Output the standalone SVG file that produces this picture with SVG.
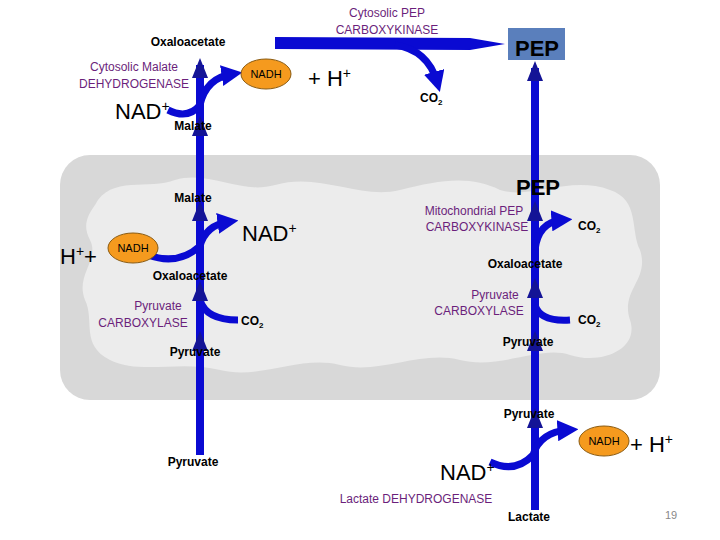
<svg xmlns="http://www.w3.org/2000/svg" width="720" height="540" viewBox="0 0 720 540" xmlns:xlink="http://www.w3.org/1999/xlink">
<style>
text{font-family:"Liberation Sans","Open Sans",sans-serif}
.m{font-size:12px;fill:#000;font-weight:bold}
.e{font-size:12px;fill:#6b1f7b}
.b{font-size:22px;fill:#000}
.line{stroke:#0a0ad2;stroke-width:8;fill:none}
.curve{stroke:#0a0ad2;stroke-width:7;fill:none}
.nadh{fill:#f59a1e;stroke:#8a5a10;stroke-width:1}
</style>
<defs>
<polygon id="up" points="0,-12 -8,8 8,8" fill="#141496"/>
<marker id="ah" viewBox="0 0 10 10" refX="5" refY="5" markerWidth="3" markerHeight="3" orient="auto"><path d="M0,0 L10,5 L0,10 z" fill="#0a0ad2"/></marker>
</defs>
<g id="mito">
<rect x="60" y="155" width="600" height="245" rx="30" fill="#d8d8d8"/>
<path d="M95,205 C110,175 150,190 175,180 C210,170 240,195 275,185 C320,172 360,200 400,190 C440,180 470,175 500,190 C530,200 570,175 610,190 C640,200 630,230 640,250 C650,280 620,290 630,320 C640,350 600,365 570,355 C540,345 500,370 460,360 C420,350 380,375 340,365 C300,355 260,380 220,370 C180,360 140,375 110,360 C80,345 95,320 85,300 C75,275 100,260 90,240 C82,225 88,215 95,205 Z" fill="#ececec"/>
</g>
<g id="connectors">
<line class="line" x1="200" y1="455" x2="200" y2="65"/>
<line class="line" x1="535" y1="510" x2="535" y2="68"/>
<path d="M275,37 L470,38 L505,44 L470,50 L275,49 Z" fill="#0a0ad2"/>
<path class="curve" d="M395,45 Q428,50 437,82" marker-end="url(#ah)"/>
<path class="curve" d="M168,110 Q188,120 200,105 Q206,78 232,74" marker-end="url(#ah)"/>
<path class="curve" d="M148,255 Q178,266 200,246 Q206,225 228,222" marker-end="url(#ah)"/>
<path class="curve" d="M200,300 Q206,320 238,320"/>
<path class="curve" d="M535,250 Q538,222 562,220" marker-end="url(#ah)"/>
<path class="curve" d="M535,305 Q540,322 570,320"/>
<path class="curve" d="M490,462 Q515,474 533,455 Q540,432 568,430" marker-end="url(#ah)"/>
<use xlink:href="#up" x="200" y="70"/>
<use xlink:href="#up" x="200" y="128"/>
<use xlink:href="#up" x="200" y="213"/>
<use xlink:href="#up" x="200" y="293"/>
<use xlink:href="#up" x="200" y="343"/>
<use xlink:href="#up" x="535" y="73"/>
<use xlink:href="#up" x="535" y="213"/>
<use xlink:href="#up" x="535" y="290"/>
<use xlink:href="#up" x="535" y="343"/>
<use xlink:href="#up" x="535" y="420"/>
</g>
<g id="pep-top"><rect x="508" y="28" width="57" height="32" fill="#5a7fbc"/><text x="537" y="56" class="b" text-anchor="middle" font-weight="bold">PEP</text></g>
<g id="labels">
<text x="188" y="46" class="m" text-anchor="middle">Oxaloacetate</text>
<text x="134" y="71" class="e" text-anchor="middle">Cytosolic Malate</text>
<text x="134" y="88" class="e" text-anchor="middle">DEHYDROGENASE</text>
<text x="115" y="119" class="b">NAD<tspan font-size="14" dy="-8">+</tspan></text>
<text x="193" y="130" class="m" text-anchor="middle">Malate</text>
<text x="387" y="17" class="e" text-anchor="middle">Cytosolic PEP</text>
<text x="387" y="34" class="e" text-anchor="middle">CARBOXYKINASE</text>
<text x="420" y="102" class="m">CO<tspan font-size="8" dy="3">2</tspan></text>
<text x="308" y="86" class="b">+ H<tspan font-size="14" dy="-8">+</tspan></text>
<text x="193" y="202" class="m" text-anchor="middle">Malate</text>
<text x="242" y="241" class="b">NAD<tspan font-size="14" dy="-8">+</tspan></text>
<text x="60" y="264" class="b">H<tspan font-size="14" dy="-8">+</tspan><tspan dy="8">+</tspan></text>
<text x="190" y="280" class="m" text-anchor="middle">Oxaloacetate</text>
<text x="158" y="310" class="e" text-anchor="middle">Pyruvate</text>
<text x="143" y="327" class="e" text-anchor="middle">CARBOXYLASE</text>
<text x="241" y="325" class="m">CO<tspan font-size="8" dy="3">2</tspan></text>
<text x="195" y="356" class="m" text-anchor="middle">Pyruvate</text>
<text x="538" y="195" class="b" text-anchor="middle" font-weight="bold">PEP</text>
<text x="474" y="215" class="e" text-anchor="middle">Mitochondrial PEP</text>
<text x="477" y="231" class="e" text-anchor="middle">CARBOXYKINASE</text>
<text x="578" y="230" class="m">CO<tspan font-size="8" dy="3">2</tspan></text>
<text x="525" y="268" class="m" text-anchor="middle">Oxaloacetate</text>
<text x="495" y="299" class="e" text-anchor="middle">Pyruvate</text>
<text x="479" y="315" class="e" text-anchor="middle">CARBOXYLASE</text>
<text x="578" y="324" class="m">CO<tspan font-size="8" dy="3">2</tspan></text>
<text x="528" y="346" class="m" text-anchor="middle">Pyruvate</text>
<text x="529" y="418" class="m" text-anchor="middle">Pyruvate</text>
<text x="193" y="466" class="m" text-anchor="middle">Pyruvate</text>
<text x="440" y="480" class="b">NAD<tspan font-size="14" dy="-8">+</tspan></text>
<text x="416" y="503" class="e" text-anchor="middle">Lactate DEHYDROGENASE</text>
<text x="529" y="521" class="m" text-anchor="middle">Lactate</text>
<text x="630" y="452" class="b">+ H<tspan font-size="14" dy="-8">+</tspan></text>
<text x="671" y="519" font-size="11" fill="#888" text-anchor="middle">19</text>
</g>
<g id="nadh1"><ellipse class="nadh" cx="266" cy="74" rx="25" ry="15"/><text x="266" y="78" font-size="11" text-anchor="middle">NADH</text></g>
<g id="nadh2"><ellipse class="nadh" cx="133" cy="248" rx="25" ry="15"/><text x="133" y="252" font-size="11" text-anchor="middle">NADH</text></g>
<g id="nadh3"><ellipse class="nadh" cx="604" cy="441" rx="25" ry="15"/><text x="604" y="445" font-size="11" text-anchor="middle">NADH</text></g>
</svg>
